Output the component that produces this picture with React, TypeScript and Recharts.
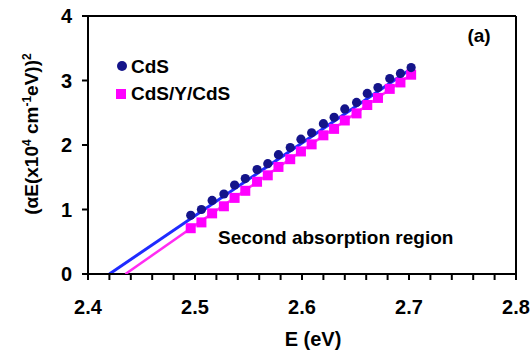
import { ScatterChart, Scatter, XAxis, YAxis, ReferenceLine } from "recharts"

const ENERGY = [
  2.496, 2.506, 2.516, 2.527, 2.537, 2.547, 2.558, 2.568, 2.578, 2.589, 2.599,
  2.609, 2.62, 2.63, 2.64, 2.651, 2.661, 2.671, 2.682, 2.692, 2.702,
]
const CDS = [
  0.91, 1.0, 1.14, 1.24, 1.38, 1.48, 1.62, 1.71, 1.85, 1.96, 2.09,
  2.19, 2.33, 2.43, 2.56, 2.66, 2.8, 2.89, 3.03, 3.11, 3.2,
]
const CDS_Y_CDS = [
  0.71, 0.8, 0.94, 1.05, 1.18, 1.29, 1.43, 1.53, 1.66, 1.78, 1.9,
  2.01, 2.15, 2.25, 2.38, 2.49, 2.62, 2.73, 2.87, 2.97, 3.09,
]
const FIT_CDS_X = [2.42, 2.7]
const FIT_CDS_Y = [0, 3.16]
const FIT_YCDS_X = [2.435, 2.7]
const FIT_YCDS_Y = [0, 3.07]

const X_TICKS = [
  2.4, 2.42, 2.44, 2.46, 2.48, 2.5, 2.52, 2.54, 2.56, 2.58, 2.6,
  2.62, 2.64, 2.66, 2.68, 2.7, 2.72, 2.74, 2.76, 2.78, 2.8,
]
const Y_TICKS = [0, 1, 2, 3, 4]

const NAVY = "#14148a"
const MAGENTA = "#ff00ff"
const BLUE_LINE = "#1f2bff"
const PINK_LINE = "#ff2cf2"
const FONT = "'Liberation Sans', Arial, sans-serif"

const toPoints = (xs: number[], ys: number[]) => xs.map((x, i) => ({ x, y: ys[i] }))

const cdsData = toPoints(ENERGY, CDS)
const ycdsData = toPoints(ENERGY, CDS_Y_CDS)
const fitCds = toPoints(FIT_CDS_X, FIT_CDS_Y)
const fitYcds = toPoints(FIT_YCDS_X, FIT_YCDS_Y)

const isMajor = (v: number) => Math.abs(v * 10 - Math.round(v * 10)) < 1e-6

const tickStyle = { fill: "#000", fontSize: 20, fontWeight: "bold", fontFamily: FONT }

export default function App() {
  return (
    <div style={{ position: "absolute", left: 0, top: 0, width: 532, height: 352, background: "#fff" }}>
      <ScatterChart width={532} height={352} margin={{ top: 16, right: 16, bottom: 0, left: 0 }}>
        <XAxis
          dataKey="x"
          type="number"
          domain={[2.4, 2.8]}
          ticks={X_TICKS}
          interval={0}
          tickFormatter={(v: number) => (isMajor(v) ? v.toFixed(1) : "")}
          tick={tickStyle}
          tickSize={6}
          tickMargin={20}
          height={78}
          axisLine={{ stroke: "#000", strokeWidth: 2 }}
          tickLine={{ stroke: "#000", strokeWidth: 2 }}
          allowDataOverflow
        />
        <YAxis
          dataKey="y"
          type="number"
          domain={[0, 4]}
          ticks={Y_TICKS}
          interval={0}
          tick={tickStyle}
          tickSize={6}
          tickMargin={10}
          width={88}
          axisLine={{ stroke: "#000", strokeWidth: 2 }}
          tickLine={{ stroke: "#000", strokeWidth: 2 }}
          allowDataOverflow
        />
        <ReferenceLine y={4} stroke="#000" strokeWidth={2} />
        <ReferenceLine x={2.8} stroke="#000" strokeWidth={2} />
        <Scatter
          data={fitYcds}
          line={{ stroke: PINK_LINE, strokeWidth: 2.5 }}
          shape={() => <g />}
          isAnimationActive={false}
        />
        <Scatter
          data={ycdsData}
          shape={(p: any) => <rect x={p.cx - 5} y={p.cy - 5} width={10} height={10} fill={MAGENTA} />}
          isAnimationActive={false}
        />
        <Scatter
          data={cdsData}
          shape={(p: any) => <circle cx={p.cx} cy={p.cy} r={4.6} fill={NAVY} />}
          isAnimationActive={false}
        />
        <ReferenceLine segment={fitCds} stroke={BLUE_LINE} strokeWidth={3} />
      </ScatterChart>
      <svg
        width={532}
        height={352}
        style={{ position: "absolute", left: 0, top: 0, pointerEvents: "none" }}
        fontFamily={FONT}
        fontWeight="bold"
        fill="#000"
      >
        <circle cx={122} cy={66} r={5} fill={NAVY} />
        <text x={131} y={73} fontSize={19}>CdS</text>
        <rect x={116} y={89} width={10} height={10} fill={MAGENTA} />
        <text x={131} y={100} fontSize={19}>CdS/Y/CdS</text>
        <text x={479} y={42} fontSize={19} textAnchor="middle">(a)</text>
        <text x={218} y={244} fontSize={19}>Second absorption region</text>
        <text x={313} y={346} fontSize={20} textAnchor="middle">E (eV)</text>
        <text transform="translate(38,134) rotate(-90)" fontSize={19} textAnchor="middle">
          (αE(x10<tspan dy={-7} fontSize={12}>4</tspan>
          <tspan dy={7}> cm</tspan>
          <tspan dy={-7} fontSize={12}>-1</tspan>
          <tspan dy={7}>eV))</tspan>
          <tspan dy={-7} fontSize={12}>2</tspan>
        </text>
      </svg>
    </div>
  )
}
